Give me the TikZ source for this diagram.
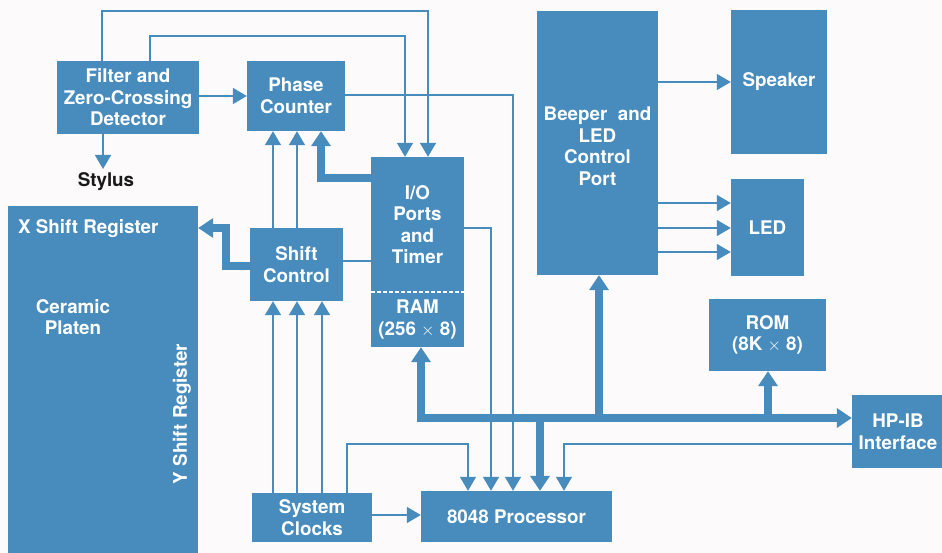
\documentclass[tikz,border=0pt]{standalone}
\usepackage{fontspec}
\setmainfont{TeX Gyre Heros}
\usetikzlibrary{arrows.meta}
\definecolor{hpblue}{RGB}{72,140,190}
\definecolor{bg}{RGB}{252,250,250}
\begin{document}
\begin{tikzpicture}[x=1pt,y=-1pt,
  lbl/.style={text=white, font=\bfseries\fontsize{18.8}{21.5}\selectfont, align=center, inner sep=0pt},
  box/.style={lbl, fill=hpblue, draw=none},
  ln/.style={draw=hpblue, line width=1.6pt},
  arr/.style={ln, -{Triangle[length=14pt,width=16pt]}},
  bus/.style={draw=hpblue, line width=8pt, line join=miter},
  busarr/.style={bus, -{Triangle[length=15pt,width=19pt]}},
]
\fill[bg] (0,0) rectangle (942,553);
\clip (0,0) rectangle (942,553);

% boxes
\node[box, minimum width=142pt, minimum height=73pt] (filter) at (128,97.5) {Filter and\\Zero-Crossing\\Detector};
\node[box, minimum width=98pt, minimum height=70pt] (phase) at (296,96) {Phase\\Counter};
\node[box, minimum width=93pt, minimum height=135pt] (io) at (417.5,224.5) {I/O\\Ports\\and\\Timer};
\node[box, minimum width=93pt, minimum height=55pt] (ram) at (417.5,319.5) {RAM\\(256 $\times$ 8)};
\node[box, minimum width=190pt, minimum height=360pt] (xreg) at (103,386) {};
\node[box, minimum width=93pt, minimum height=73pt] (shift) at (296.5,264.5) {Shift\\Control};
\node[box, minimum width=120pt, minimum height=49pt] (clocks) at (312,517.5) {System\\Clocks};
\node[box, minimum width=191pt, minimum height=51pt] (proc) at (516.5,516.5) {8048 Processor};
\node[box, minimum width=121pt, minimum height=264pt] (beeper) at (597.5,143) {};
\node[lbl] (beeperlbl) at (597.5,146) {Beeper\ \ and\\LED\\Control\\Port};
\node[box, minimum width=96pt, minimum height=144pt] (speaker) at (779,82) {Speaker};
\node[box, minimum width=73pt, minimum height=97pt] (led) at (767.5,227.5) {LED};
\node[box, minimum width=117pt, minimum height=72pt] (rom) at (767.5,335) {ROM\\(8K $\times$ 8)};
\node[box, minimum width=92pt, minimum height=73pt] (hpib) at (898,431.5) {HP-IB\\Interface};

% labels on the platen
\node[lbl, anchor=west] (xlabel) at (18,229) {X Shift Register};
\node[lbl] (ceramic) at (73,317) {Ceramic\\Platen};
\node[lbl, rotate=90] (ylabel) at (182,414) {Y Shift Register};
\node[lbl, text=black!90] (stylus) at (106,182) {Stylus};

% dashed separator between I/O and RAM
\draw[white, line width=1.4pt, dash pattern=on 4.5pt off 1.5pt] (io.south west) -- (io.south east);

% thin connectors
\draw[arr] (filter.east |- 0,96) -- (phase.west |- 0,96);
\draw[arr] (filter.south -| 103,0) -- (103,169);
\draw[arr] (filter.north -| 102,0) |- (428,11) -- (io.north -| 428,0);
\draw[arr] (filter.north -| 150,0) |- (405,36) -- (io.north -| 405,0);
\draw[arr] (phase.east |- 0,95) -| (proc.north -| 513,0);
\draw[arr] (io.east |- 0,228) -| (proc.north -| 491,0);
\draw[ln] (shift.east |- 0,261) -- (io.west |- 0,261);
\foreach \x in {273,297} \draw[arr] (shift.north -| \x,0) -- (phase.south -| \x,0);
\foreach \x in {273,297,322} \draw[arr] (clocks.north -| \x,0) -- (shift.south -| \x,0);
\draw[arr] (clocks.east |- 0,515) -- (proc.west |- 0,515);
\draw[arr] (clocks.north -| 347,0) |- (468,444) -- (proc.north -| 468,0);
\draw[arr] (hpib.west |- 0,444) -| (proc.north -| 564,0);
\draw[arr] (beeper.east |- 0,82) -- (speaker.west |- 0,82);
\foreach \y in {203,228,252} \draw[arr] (beeper.east |- 0,\y) -- (led.west |- 0,\y);

% thick connectors
\draw[busarr] (io.west |- 0,178) -| (phase.south -| 321,0);
\draw[busarr] (shift.west |- 0,266) -| (226,228) -- (xreg.east |- 0,228);
\draw[bus, {Triangle[length=15pt,width=19pt]}-{Triangle[length=15pt,width=19pt]}] (ram.south -| 421,0) |- (hpib.west |- 0,418);
\coordinate (b1) at (599,418);
\coordinate (b2) at (768,418);
\coordinate (b3) at (540,418);
\draw[busarr] (b1) -- (beeper.south -| b1);
\draw[busarr] (b2) -- (rom.south -| b2);
\draw[busarr] (b3) -- (proc.north -| b3);
\end{tikzpicture}
\end{document}
